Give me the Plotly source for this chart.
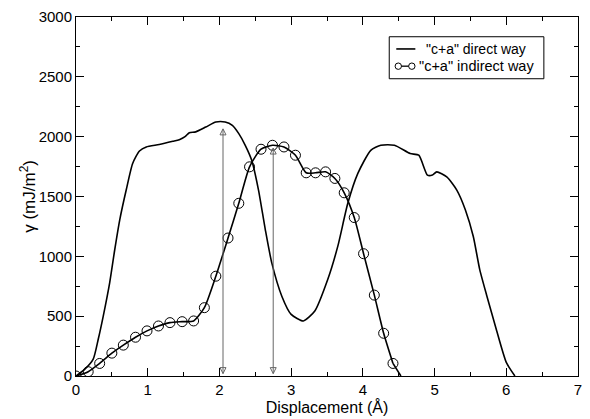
import plotly.graph_objects as go

# "c+a" direct way (solid line)
direct_x = [0, 0.12, 0.24, 0.31, 0.38, 0.47, 0.54, 0.61, 0.70, 0.79, 0.885, 0.98, 1.16, 1.35, 1.44,
            1.52, 1.58, 1.67, 1.81, 1.95, 2.08, 2.18, 2.27, 2.36, 2.45, 2.545, 2.64, 2.73, 2.87, 3.0,
            3.17, 3.33, 3.51, 3.65, 3.79, 3.93, 4.11, 4.25, 4.44, 4.66, 4.78, 4.90, 4.97, 5.03,
            5.17, 5.31, 5.43, 5.54, 5.63, 5.73, 5.86, 6.0, 6.12]
direct_y = [0, 55, 141, 307, 501, 781, 1055, 1305, 1554, 1776, 1880, 1914, 1934, 1961, 1975,
            2000, 2033, 2040, 2080, 2122, 2122, 2094, 2025, 1928, 1803, 1554, 1222, 945, 667, 515,
            460, 543, 806, 1083, 1443, 1693, 1886, 1928, 1928, 1859, 1845, 1679, 1679, 1706,
            1665, 1554, 1388, 1166, 889, 667, 391, 114, 0]

# "c+a" indirect way (line with open circles)
indirect_x = [0, 0.17, 0.33, 0.50, 0.66, 0.83, 0.99, 1.15, 1.31, 1.48, 1.64, 1.79, 1.95, 2.12,
              2.27, 2.42, 2.58, 2.74, 2.90, 3.06, 3.21, 3.34, 3.48, 3.61, 3.74, 3.88, 4.01,
              4.16, 4.29, 4.42]
indirect_y = [0, 36, 105, 191, 258, 324, 377, 418, 446, 454, 460, 571, 834, 1153,
              1443, 1748, 1895, 1928, 1914, 1845, 1698, 1698, 1706, 1651, 1531, 1324, 1022,
              676, 357, 105]
indirect_end_x = [4.42, 4.53]
indirect_end_y = [105, 0]

# double arrows (x position, bottom, top)
arrow_x = [2.05, 2.75]
arrow_bottom = [20, 20]
arrow_top = [2065, 1905]

x_ticks = [0, 1, 2, 3, 4, 5, 6, 7]
y_ticks = [0, 500, 1000, 1500, 2000, 2500, 3000]

legend_labels = ['"c+a" direct way', '"c+a" indirect way']

FONT = "Liberation Sans, Arial, sans-serif"

fig = go.Figure()
fig.add_trace(go.Scatter(x=direct_x, y=direct_y, mode="lines", name=legend_labels[0],
                         showlegend=False,
                         line=dict(color="black", width=1.6, shape="spline", smoothing=0.6)))
fig.add_trace(go.Scatter(x=indirect_end_x, y=indirect_end_y, mode="lines", showlegend=False,
                         line=dict(color="black", width=1.6), hoverinfo="skip"))
fig.add_trace(go.Scatter(x=indirect_x, y=indirect_y, mode="lines+markers", name=legend_labels[1],
                         showlegend=False,
                         line=dict(color="black", width=1.6, shape="spline", smoothing=0.6),
                         marker=dict(symbol="circle-open", size=10, color="black",
                                     line=dict(width=1))))

# double-headed vertical arrows as line traces with arrow markers at both ends
for ax_, b_, t_ in zip(arrow_x, arrow_bottom, arrow_top):
    fig.add_trace(go.Scatter(x=[ax_, ax_], y=[b_, t_], mode="lines+markers", showlegend=False,
                             hoverinfo="skip",
                             line=dict(color="#666666", width=1),
                             marker=dict(symbol=["arrow-down-open", "arrow-up-open"], size=6,
                                         color="#666666", line=dict(width=1, color="#666666"))))

# legend box drawn by hand (paper coordinates)
fig.add_shape(type="rect", xref="paper", yref="paper", x0=0.624, x1=0.932, y0=0.828, y1=0.945,
              line=dict(color="black", width=1), fillcolor="white", layer="above")
fig.add_shape(type="line", xref="paper", yref="paper", x0=0.638, x1=0.676, y0=0.911, y1=0.911,
              line=dict(color="black", width=1.6), layer="above")
fig.add_shape(type="line", xref="paper", yref="paper", x0=0.642, x1=0.669, y0=0.863, y1=0.863,
              line=dict(color="black", width=1.3), layer="above")
for cx in [0.642, 0.669]:
    fig.add_shape(type="circle", xref="paper", yref="paper", xsizemode="pixel", ysizemode="pixel",
                  xanchor=cx, yanchor=0.863, x0=-3.2, x1=3.2, y0=-3.2, y1=3.2,
                  line=dict(color="black", width=1), fillcolor="white", layer="above")
fig.add_annotation(xref="paper", yref="paper", x=0.694, y=0.911, xanchor="left", yanchor="middle",
                   text=legend_labels[0], showarrow=False,
                   font=dict(family=FONT, size=14, color="black"))
fig.add_annotation(xref="paper", yref="paper", x=0.680, y=0.863, xanchor="left", yanchor="middle",
                   text=legend_labels[1], showarrow=False,
                   font=dict(family=FONT, size=14.5, color="black"))

# y-axis title placed as rotated text
fig.add_annotation(xref="paper", yref="paper", x=-0.097, y=0.50, xanchor="center", yanchor="middle",
                   text="γ (mJ/m<sup>2</sup>)", textangle=-90, showarrow=False,
                   font=dict(family=FONT, size=17, color="black"))

axis_common = dict(showline=True, linecolor="black", linewidth=1, mirror="allticks",
                   ticks="inside", ticklen=8, tickwidth=1, tickcolor="black",
                   showgrid=False, zeroline=False,
                   tickfont=dict(family=FONT, size=15, color="black"))

fig.update_xaxes(range=[0, 7], tickvals=x_ticks,
                 minor=dict(dtick=0.5, ticks="inside", ticklen=4, tickcolor="black", showgrid=False),
                 title=dict(text="Displacement (Å)", standoff=2,
                            font=dict(family=FONT, size=16, color="black")),
                 **axis_common)
fig.update_yaxes(range=[0, 3000], tickvals=y_ticks,
                 minor=dict(dtick=250, ticks="inside", ticklen=4, tickcolor="black", showgrid=False),
                 **axis_common)

fig.update_layout(width=590, height=419, margin=dict(l=76, r=8, t=16, b=42),
                  plot_bgcolor="white", paper_bgcolor="white", showlegend=False)

fig.write_html("out.html")
